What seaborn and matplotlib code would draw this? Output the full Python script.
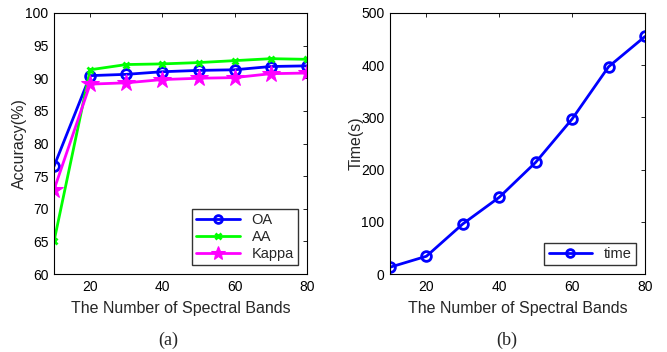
import pandas as pd
import matplotlib
matplotlib.use("Agg")
import matplotlib.pyplot as plt
import seaborn as sns

bands = [10, 20, 30, 40, 50, 60, 70, 80]
oa = [76.5, 90.4, 90.6, 91.0, 91.2, 91.3, 91.8, 91.9]
aa = [65.0, 91.3, 92.1, 92.2, 92.4, 92.7, 93.0, 92.9]
kappa = [72.9, 89.1, 89.3, 89.8, 90.0, 90.1, 90.7, 90.8]
time_s = [13, 34, 96, 147, 214, 297, 397, 455]

sns.set_style("white")
plt.rcParams['font.family'] = ['Liberation Sans', 'DejaVu Sans']
plt.rcParams['font.size'] = 10

fig = plt.figure(figsize=(6.67, 3.52), dpi=100)
ax1 = fig.add_axes([54 / 667, 1 - 274 / 352, 253 / 667, 261 / 352])
ax2 = fig.add_axes([390 / 667, 1 - 274 / 352, 255 / 667, 261 / 352])

df = pd.DataFrame({"bands": bands, "OA": oa, "AA": aa, "Kappa": kappa})
sns.lineplot(data=df, x="bands", y="OA", ax=ax1, color=(0, 0, 1), lw=2,
             marker="o", markersize=7, markerfacecolor="none",
             markeredgecolor=(0, 0, 1), markeredgewidth=2, label="OA")
sns.lineplot(data=df, x="bands", y="AA", ax=ax1, color=(0, 1, 0), lw=2,
             marker="x", markersize=5, markeredgecolor=(0, 1, 0),
             markeredgewidth=2, label="AA")
sns.lineplot(data=df, x="bands", y="Kappa", ax=ax1, color=(1, 0, 1), lw=2,
             marker="*", markersize=13, markerfacecolor=(1, 0, 1),
             markeredgecolor=(1, 0, 1), label="Kappa")

ax1.set_xlim(10, 80)
ax1.set_ylim(60, 100)
ax1.set_xticks([20, 40, 60, 80])
ax1.set_yticks(range(60, 101, 5))
ax1.set_xlabel("The Number of Spectral Bands", fontsize=11.5, labelpad=5)
ax1.set_ylabel("Accuracy(%)", fontsize=11.5, labelpad=-1)
ax1.legend(loc="lower right", frameon=True, fancybox=False, edgecolor="black",
           handlelength=3, borderaxespad=0.6, labelspacing=0.2,
           fontsize=10.5, borderpad=0.3, markerscale=0.8)

tdf = pd.DataFrame({"bands": bands, "time": time_s})
sns.lineplot(data=tdf, x="bands", y="time", ax=ax2, color=(0, 0, 1), lw=2,
             marker="o", markersize=7, markerfacecolor="none",
             markeredgecolor=(0, 0, 1), markeredgewidth=2, label="time")
ax2.set_xlim(10, 80)
ax2.set_ylim(0, 500)
ax2.set_xticks([20, 40, 60, 80])
ax2.set_yticks(range(0, 501, 100))
ax2.set_xlabel("The Number of Spectral Bands", fontsize=11.5, labelpad=5)
ax2.set_ylabel("Time(s)", fontsize=11.5, labelpad=-1.5)
ax2.legend(loc="lower right", frameon=True, fancybox=False, edgecolor="black",
           handlelength=3, borderaxespad=0.6, fontsize=10.5, borderpad=0.3,
           markerscale=0.8)

for ax in (ax1, ax2):
    for s in ax.spines.values():
        s.set_color("black")
        s.set_linewidth(0.8)
    ax.tick_params(direction="in", top=True, right=True, length=3,
                   width=0.6, labelsize=10, colors="black", pad=4)

fig.text(168 / 667, 1 - 340 / 352, "(a)", family="Liberation Serif",
         fontsize=13, ha="center", va="center")
fig.text(507 / 667, 1 - 340 / 352, "(b)", family="Liberation Serif",
         fontsize=13, ha="center", va="center")

fig.savefig("out.png", dpi=100)
